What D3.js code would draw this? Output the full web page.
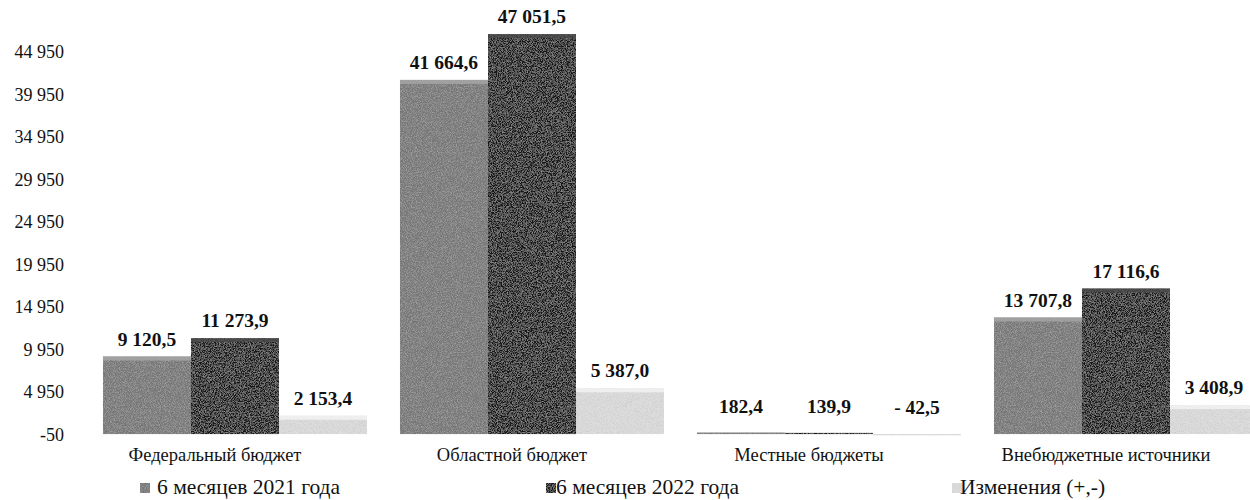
<!DOCTYPE html>
<html><head><meta charset="utf-8">
<script src="https://cdn.jsdelivr.net/npm/d3@7"></script>
<style>body{margin:0;background:#fff}svg{display:block}svg text{font-family:"Liberation Serif","Times New Roman","DejaVu Serif",serif}</style>
</head><body>
<svg id="chart" width="1250" height="500"></svg>
<script>
const categories = ["Федеральный бюджет", "Областной бюджет", "Местные бюджеты", "Внебюджетные источники"];
const seriesNames = ["6 месяцев 2021 года", "6 месяцев 2022 года", "Изменения (+,-)"];
const values2021 = [9120.5, 41664.6, 182.4, 13707.8];
const values2022 = [11273.9, 47051.5, 139.9, 17116.6];
const changes = [2153.4, 5387.0, -42.5, 3408.9];
const yTicks = [-50, 4950, 9950, 14950, 19950, 24950, 29950, 34950, 39950, 44950];

const seriesValues = [values2021, values2022, changes];
const colors = ["#767676", "#141414", "#dedede"];
const bevel = ["#a8a8a8", "#4a4a4a", "#f4f4f4"];

const svg = d3.select("#chart");

const locTick = d3.formatLocale({decimal: ",", thousands: " ", grouping: [3], currency: ["", ""], minus: "-"});
const locVal = d3.formatLocale({decimal: ",", thousands: " ", grouping: [3], currency: ["", ""], minus: "- "});
const fmtTick = locTick.format(",d");
const fmtVal = locVal.format(",.1f");

const y = d3.scaleLinear().domain([-50, 44950]).range([434.5, 52]);
const x0 = d3.scaleBand().domain(categories).range([86.5, 1274.5]).paddingInner(0.111).paddingOuter(0.0555);
const x1 = d3.scaleBand().domain(seriesNames).range([0, x0.bandwidth()]).padding(0);

// texture filter
const defs = svg.append("defs");
const f = defs.append("filter").attr("id", "grain").attr("x", 0).attr("y", 0).attr("width", 1).attr("height", 1);
f.append("feTurbulence").attr("type", "fractalNoise").attr("baseFrequency", 1.2).attr("numOctaves", 1).attr("seed", 3).attr("result", "noise");
f.append("feColorMatrix").attr("in", "noise").attr("type", "matrix")
  .attr("values", "0 0 0 0 0.5  0 0 0 0 0.5  0 0 0 0 0.5  0 0 0 1.4 -0.55").attr("result", "n2");
f.append("feComposite").attr("in", "n2").attr("in2", "SourceGraphic").attr("operator", "in").attr("result", "n3");
f.append("feMerge").selectAll("feMergeNode").data(["SourceGraphic", "n3"]).join("feMergeNode").attr("in", d => d);

// y axis labels
const yAxis = d3.axisLeft(y).tickValues(yTicks).tickFormat(fmtTick).tickSize(0).tickPadding(0);
const ya = svg.append("g").attr("transform", "translate(64,0)").call(yAxis);
ya.select(".domain").remove();
ya.attr("font-family", null).attr("font-size", null);
ya.selectAll("text").attr("font-size", 18).attr("fill", "#111");

// bars
const groups = svg.append("g").selectAll("g").data(categories).join("g")
  .attr("transform", d => `translate(${x0(d)},0)`);

groups.each(function(cat, ci) {
  const g = d3.select(this);
  seriesNames.forEach((s, si) => {
    const v = seriesValues[si][ci];
    const top = Math.min(y(v), y(0));
    const h = Math.max(1.2, Math.abs(y(v) - y(0)));
    g.append("rect").attr("x", x1(s)).attr("y", top).attr("width", x1.bandwidth()).attr("height", h)
      .attr("fill", colors[si]).attr("filter", "url(#grain)");
    if (h > 8) {
      g.append("rect").attr("x", x1(s)).attr("y", top).attr("width", x1.bandwidth()).attr("height", 4)
        .attr("fill", bevel[si]).attr("opacity", 0.8);
    }
    g.append("text").attr("x", x1(s) + x1.bandwidth() / 2).attr("y", top - (h > 8 ? 11 : 20))
      .attr("text-anchor", "middle").attr("font-weight", "bold")
      .attr("font-size", 19.5).attr("fill", "#111").text(fmtVal(v));
  });
});

// category labels
svg.append("g").selectAll("text").data(categories).join("text")
  .attr("x", d => Math.min(x0(d) + x0.bandwidth() / 2 - 20, 1130))
  .attr("y", 461).attr("text-anchor", "middle")
  .attr("font-size", 18.5).attr("fill", "#111").text(d => d);

// legend
const lx = d3.scaleBand().domain(seriesNames).range([140, 1358]);
const lg = svg.append("g").selectAll("g").data(seriesNames).join("g")
  .attr("transform", d => `translate(${lx(d)},0)`);
lg.append("rect").attr("x", 0).attr("y", 483).attr("width", 10).attr("height", 10)
  .attr("fill", (d, i) => colors[i]).attr("filter", "url(#grain)");
lg.append("text").attr("x", (d, i) => i === 0 ? 17 : (i === 1 ? 10 : 8)).attr("y", 494)
  .attr("font-size", 21.5).attr("fill", "#111").text(d => d);
</script>
</body></html>
